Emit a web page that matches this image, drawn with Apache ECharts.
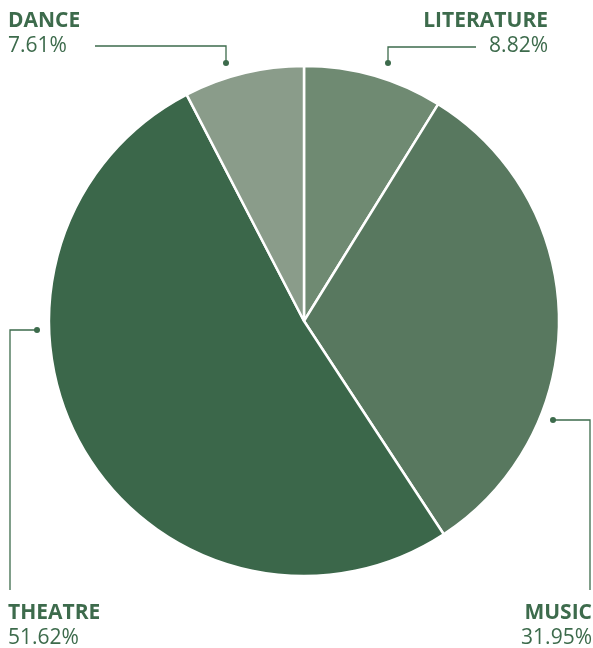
<!DOCTYPE html>
<html>
<head>
<meta charset="utf-8">
<script src="https://cdn.jsdelivr.net/npm/echarts@6/dist/echarts.min.js"></script>
<style>
html,body{margin:0;padding:0;background:#fff;}
#chart{width:593px;height:648px;}
</style>
</head>
<body>
<div id="chart"></div>
<script>
const categories = ['LITERATURE', 'MUSIC', 'THEATRE', 'DANCE'];
const shares = [8.82, 31.95, 51.62, 7.61];
const sliceColors = ['#6f8a72', '#58785f', '#3b674a', '#8a9c8a'];

// label / leader-line layout (pixels)
const labelSpots = [
  {x: 548, y: 9, align: 'right', line: [[388, 63], [388, 47], [476, 47]]},
  {x: 592, y: 601, align: 'right', line: [[553, 420], [590, 420], [590, 590]]},
  {x: 8, y: 601, align: 'left', line: [[37, 330], [10, 330], [10, 590]]},
  {x: 8, y: 9, align: 'left', line: [[226, 63], [226, 46], [95, 46]]}
];
const ink = '#3d6b4c';

const chart = echarts.init(document.getElementById('chart'));
chart.setOption({
  animation: false,
  backgroundColor: '#fff',
  graphic: labelSpots.map(s => ({
    type: 'circle', shape: {cx: s.line[0][0], cy: s.line[0][1], r: 3}, style: {fill: ink}, z: 10
  })),
  series: [{
    type: 'pie',
    center: [304, 321],
    radius: [0, 255],
    startAngle: 90,
    clockwise: true,
    data: categories.map((c, i) => ({name: c, value: shares[i], itemStyle: {color: sliceColors[i]}})),
    itemStyle: {borderColor: '#fff', borderWidth: 2.5},
    label: {
      show: true,
      overflow: 'none',
      formatter: p => '{n|' + p.name + '}\n{v|' + p.value.toFixed(2) + '%}',
      rich: {
        n: {fontFamily: 'Open Sans', fontWeight: 'bold', fontSize: 21, color: ink, lineHeight: 25},
        v: {fontFamily: 'Open Sans', fontSize: 21, color: ink, lineHeight: 25}
      }
    },
    labelLine: {show: true, lineStyle: {color: ink, width: 1.3}},
    labelLayout: function (p) {
      const s = labelSpots[p.dataIndex];
      return {x: s.x, y: s.y, align: s.align, verticalAlign: 'top', labelLinePoints: s.line};
    }
  }]
});
</script>
</body>
</html>
